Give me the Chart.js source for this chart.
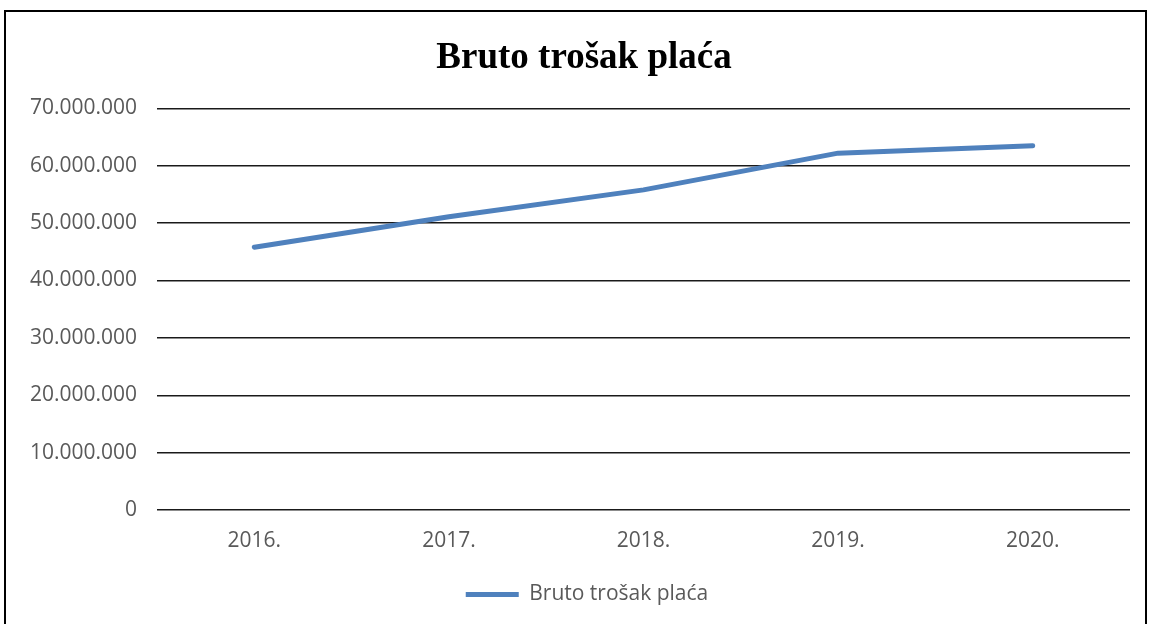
<!DOCTYPE html>
<html>
<head>
<meta charset="utf-8">
<script src="https://cdn.jsdelivr.net/npm/chart.js@4/dist/chart.umd.min.js"></script>
<style>
  html, body { margin: 0; padding: 0; background: #fff; }
  #wrap { position: relative; width: 1152px; height: 624px; overflow: hidden; }
  #frame {
    position: absolute; left: 4px; top: 10px; width: 1143px; height: 640px;
    border: 2px solid #000; box-sizing: border-box; pointer-events: none;
  }
  canvas { position: absolute; left: 0; top: 0; }
</style>
</head>
<body>
<div id="wrap">
  <canvas id="chart" width="1152" height="624"></canvas>
  <div id="frame"></div>
</div>
<script>
const years = ["2016.", "2017.", "2018.", "2019.", "2020."];
const grossSalaryCost = [45800000, 51100000, 55800000, 62200000, 63500000];
const yTicks = [0, 10000000, 20000000, 30000000, 40000000, 50000000, 60000000, 70000000];

const TEXT_COLOR = "#595959";
const LINE_COLOR = "#4f81bd";
const TICK_FONT = { family: "Open Sans", size: 21 };

function dotted(value) {
  return String(value).replace(/\B(?=(\d{3})+(?!\d))/g, ".");
}

// title and legend sit a bit right of the canvas centre in the original
const nudgeBlocks = {
  id: "nudgeBlocks",
  afterLayout(chart) {
    const moves = [[chart.titleBlock, 19], [chart.legend, 22]];
    moves.forEach(([box, dx]) => {
      if (!box) return;
      box.left += dx;
      box.right += dx;
    });
  },
};

new Chart(document.getElementById("chart"), {
  type: "line",
  data: {
    labels: years,
    datasets: [{
      label: "Bruto trošak plaća",
      data: grossSalaryCost,
      borderColor: LINE_COLOR,
      backgroundColor: LINE_COLOR,
      borderWidth: 5,
      borderCapStyle: "round",
      borderJoinStyle: "round",
      pointRadius: 0,
      tension: 0,
    }],
  },
  plugins: [nudgeBlocks],
  options: {
    responsive: false,
    animation: false,
    devicePixelRatio: 1,
    layout: {
      padding: { left: 0, right: 22, top: 36, bottom: 9 },
    },
    plugins: {
      title: {
        display: true,
        text: "Bruto trošak plaća",
        color: "#000",
        font: { family: "Liberation Serif", size: 37, weight: "bold" },
        padding: { top: 0, bottom: 28 },
      },
      legend: {
        position: "bottom",
        labels: {
          color: TEXT_COLOR,
          font: { family: "Open Sans", size: 21 },
          usePointStyle: true,
          pointStyle: "line",
          pointStyleWidth: 53,
          boxHeight: 21,
          padding: 10,
        },
      },
      tooltip: { enabled: false },
    },
    scales: {
      x: {
        offset: true,
        grid: { display: false },
        border: { display: false },
        ticks: {
          color: TEXT_COLOR,
          font: TICK_FONT,
          padding: 10,
        },
        afterFit(scale) {
          scale.height = 64;
        },
      },
      y: {
        min: 0,
        max: 70000000,
        afterBuildTicks(scale) {
          scale.ticks = yTicks.map((value) => ({ value }));
        },
        grid: {
          color: "#1a1a1a",
          lineWidth: 1.5,
          drawTicks: false,
        },
        border: { display: false },
        ticks: {
          color: TEXT_COLOR,
          font: TICK_FONT,
          padding: 20,
          callback(value) {
            return dotted(value);
          },
        },
        afterFit(scale) {
          scale.width = 157;
        },
      },
    },
  },
});
</script>
</body>
</html>
